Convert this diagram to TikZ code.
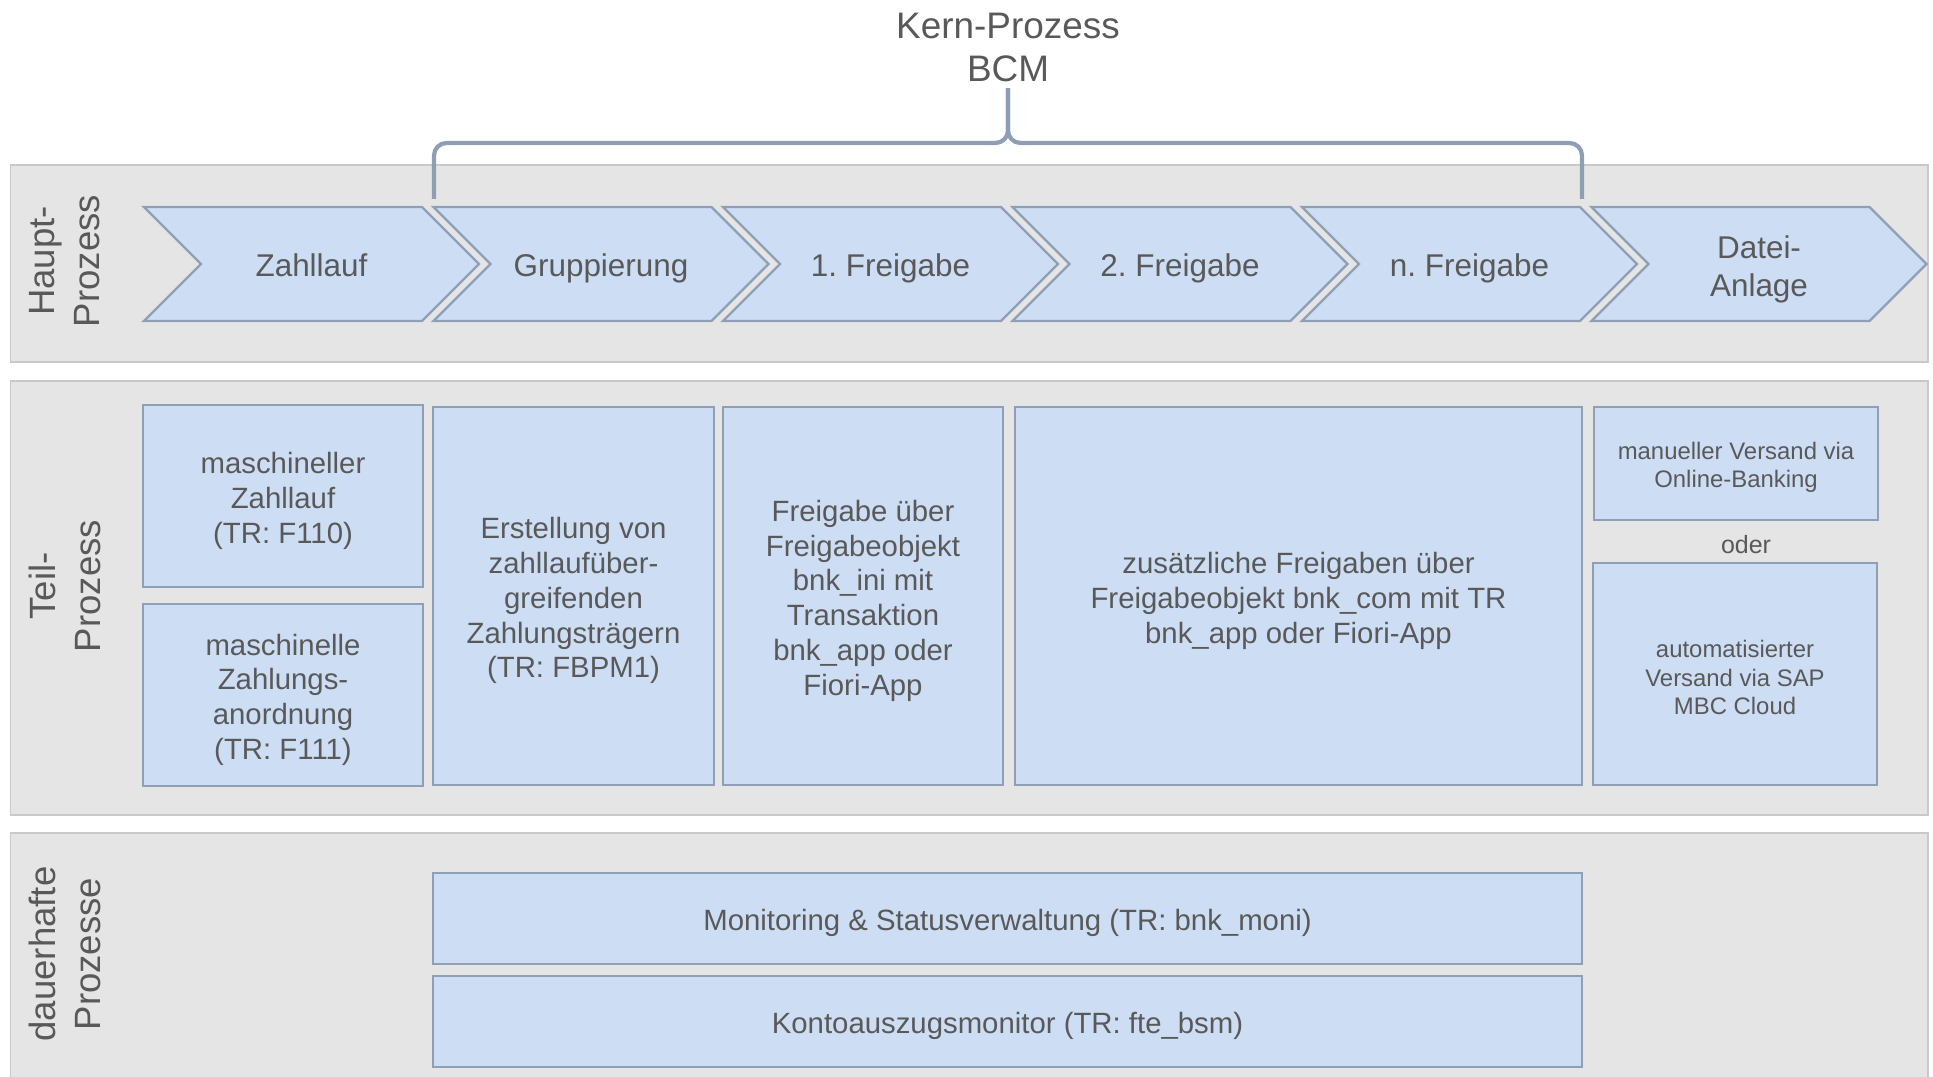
\documentclass[tikz,border=0pt]{standalone}
\usepackage{fontspec}
\setmainfont{Liberation Sans}
\usepackage{tikz}
\frenchspacing
\definecolor{BCMBand}{HTML}{E5E5E5}
\definecolor{BCMBandLine}{HTML}{C9C9C9}
\definecolor{BCMFill}{HTML}{CCDDF4}
\definecolor{BCMLine}{HTML}{8E9FB6}
\definecolor{BCMText}{HTML}{595959}
\definecolor{BCMBrace}{HTML}{8E9EB3}
\newcommand{\bcmtop}{\rule{0pt}{1.05em}}

\begin{document}
\begin{tikzpicture}[x=1cm,y=1cm,
  band/.style={fill=BCMBand,draw=BCMBandLine,line width=1.1pt},
  chev/.style={fill=BCMFill,draw=BCMLine,line width=1.3pt},
  chevtext/.style={text=BCMText,align=center,font=\fontsize{17.9}{21.6}\selectfont},
  sidetext/.style={text=BCMText,align=center,rotate=90,font=\fontsize{20.8}{25.6}\selectfont},
  box/.style={fill=BCMFill,draw=BCMLine,line width=1.3pt,text=BCMText,align=center,inner sep=0pt,font=\fontsize{16.7}{19.8}\selectfont},
  smallbox/.style={box,font=\fontsize{13.6}{16.2}\selectfont},
  brace/.style={draw=BCMBrace,line width=2.4pt,rounded corners=0.25cm}]
\path[use as bounding box] (0,0) rectangle (38.66,21.54);
\draw[band] (0.21,14.30) rectangle (38.56,18.24);
\draw[band] (0.21,5.24) rectangle (38.56,13.92);
\draw[band] (0.21,-0.50) rectangle (38.56,4.88);
\node[text=BCMText,align=center,font=\fontsize{21}{24.5}\selectfont] (kern) at (20.16,20.59) {Kern-Prozess\\BCM};
\coordinate (braceL) at (8.68,17.56);
\coordinate (braceR) at (31.64,17.56);
\coordinate (braceM) at (20.16,18.68);
\draw[brace] (braceL) |- (braceM) -- (kern.south);
\draw[brace] (braceR) |- (braceM) -- (kern.south);
\draw[chev] (2.88,17.40) -- ++(5.56,0) -- ++(1.14,-1.14) -- ++(-1.14,-1.14) -- ++(-5.56,0) -- ++(1.14,1.14) -- cycle;
\draw[chev] (8.67,17.40) -- ++(5.56,0) -- ++(1.14,-1.14) -- ++(-1.14,-1.14) -- ++(-5.56,0) -- ++(1.14,1.14) -- cycle;
\draw[chev] (14.46,17.40) -- ++(5.56,0) -- ++(1.14,-1.14) -- ++(-1.14,-1.14) -- ++(-5.56,0) -- ++(1.14,1.14) -- cycle;
\draw[chev] (20.25,17.40) -- ++(5.56,0) -- ++(1.14,-1.14) -- ++(-1.14,-1.14) -- ++(-5.56,0) -- ++(1.14,1.14) -- cycle;
\draw[chev] (26.04,17.40) -- ++(5.56,0) -- ++(1.14,-1.14) -- ++(-1.14,-1.14) -- ++(-5.56,0) -- ++(1.14,1.14) -- cycle;
\draw[chev] (31.83,17.40) -- ++(5.56,0) -- ++(1.14,-1.14) -- ++(-1.14,-1.14) -- ++(-5.56,0) -- ++(1.14,1.14) -- cycle;
\node[chevtext,anchor=base] (zahllauf) at (6.23,16.01) {Zahllauf};
\node[chevtext,anchor=base] (gruppierung) at (12.02,16.01) {Gruppierung};
\node[chevtext,anchor=base] (freigabe1) at (17.81,16.01) {1. Freigabe};
\node[chevtext,anchor=base] (freigabe2) at (23.60,16.01) {2. Freigabe};
\node[chevtext,anchor=base] (freigaben) at (29.39,16.01) {n. Freigabe};
\node[chevtext] (datei) at (35.18,16.16) {Datei-\\Anlage};
\node[sidetext] (haupt) at (1.30,16.32) {Haupt-\\Prozess};
\node[sidetext] (teil) at (1.30,9.82) {Teil-\\Prozess};
\node[sidetext] (dauer) at (1.30,2.46) {dauerhafte\\Prozesse};
\node[box,minimum width=5.60cm,minimum height=3.64cm] (zlauf) at (5.66,11.62) {\bcmtop maschineller\\Zahllauf\\(TR: F110)};
\node[box,minimum width=5.60cm,minimum height=3.64cm] (zanord) at (5.66,7.64) {\bcmtop maschinelle\\Zahlungs-\\anordnung\\(TR: F111)};
\node[box,minimum width=5.62cm,minimum height=7.56cm] (erst) at (11.47,9.62) {\bcmtop Erstellung von\\zahllaufüber-\\greifenden\\Zahlungsträgern\\(TR: FBPM1)};
\node[box,minimum width=5.60cm,minimum height=7.56cm] (frg) at (17.26,9.62) {\bcmtop Freigabe über\\Freigabeobjekt\\bnk\_ini mit\\Transaktion\\bnk\_app oder\\Fiori-App};
\node[box,minimum width=11.34cm,minimum height=7.56cm] (zus) at (25.97,9.62) {\bcmtop zusätzliche Freigaben über\\Freigabeobjekt bnk\_com mit TR\\bnk\_app oder Fiori-App};
\node[smallbox,minimum width=5.68cm,minimum height=2.26cm] (manuell) at (34.72,12.27) {\bcmtop manueller Versand via\\Online-Banking};
\node[text=BCMText,font=\fontsize{14.2}{17}\selectfont] (oder) at (34.92,10.64) {oder};
\node[smallbox,minimum width=5.68cm,minimum height=4.44cm] (auto) at (34.70,8.06) {\bcmtop automatisierter\\Versand via SAP\\MBC Cloud};
\node[box,minimum width=22.98cm,minimum height=1.82cm] (moni) at (20.15,3.17) {\bcmtop Monitoring \& Statusverwaltung (TR: bnk\_moni)};
\node[box,minimum width=22.98cm,minimum height=1.82cm] (konto) at (20.15,1.11) {\bcmtop Kontoauszugsmonitor (TR: fte\_bsm)};
\end{tikzpicture}
\end{document}
